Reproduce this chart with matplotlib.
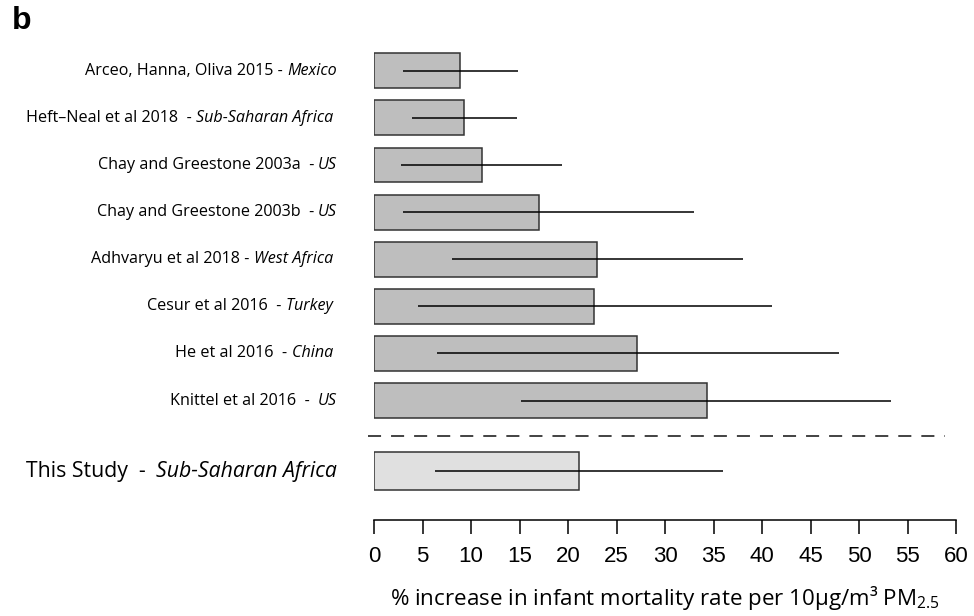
import matplotlib
matplotlib.use("Agg")
import matplotlib.pyplot as plt
import matplotlib.transforms as mtransforms
import numpy as np

plt.rcParams['lines.scale_dashes'] = False
plt.rcParams['mathtext.fontset'] = 'custom'
plt.rcParams['mathtext.rm'] = 'Open Sans'

# published estimates: % increase in infant mortality per 10 ug/m3 PM2.5
studies = ['Arceo, Hanna, Oliva 2015 - ', 'Heft\u2013Neal et al 2018  - ',
           'Chay and Greestone 2003a  - ', 'Chay and Greestone 2003b  - ',
           'Adhvaryu et al 2018 - ', 'Cesur et al 2016  - ',
           'He et al 2016  - ', 'Knittel et al 2016  -  ']
regions = ['Mexico', 'Sub-Saharan Africa ', 'US', 'US', 'West Africa ',
           'Turkey ', 'China ', 'US']
estimate = [8.9, 9.3, 11.1, 17.0, 23.0, 22.7, 27.1, 34.3]
ci_low = [3.0, 3.9, 2.8, 3.0, 8.0, 4.5, 6.5, 15.2]
ci_high = [14.8, 14.7, 19.4, 33.0, 38.0, 41.0, 47.9, 53.3]

this_label = 'This Study  -  '
this_region = 'Sub-Saharan Africa'
this_est = 21.1
this_low = 6.3
this_high = 36.0

ticks = np.arange(0, 61, 5)

fig = plt.figure(figsize=(9.74, 6.16), dpi=100)
ax = fig.add_axes([374 / 974, 0, 582 / 974, 1])
ax.set_xlim(0, 60)
ax.set_ylim(11.575, -1.503)

rows = np.arange(len(studies))
ax.barh(rows, estimate, height=0.74, color='#bebebe', edgecolor='#333333', linewidth=1.1)
ax.hlines(rows, ci_low, ci_high, color='black', linewidth=1.1)

y_this = len(studies) + 0.5
ax.barh([y_this], [this_est], height=0.8, color='#e0e0e0', edgecolor='#333333', linewidth=1.1)
ax.hlines([y_this], [this_low], [this_high], color='black', linewidth=1.1)

# separator between literature and this study
ax.plot([-0.6, 58.9], [len(studies) - 0.24] * 2, color='#222222', linewidth=1.2,
        linestyle=(0, (9.4, 7.2)), clip_on=False)

# R-style detached axis
for s in ['top', 'right', 'left']:
    ax.spines[s].set_visible(False)
ax.spines['bottom'].set_position(('data', 9.53))
ax.spines['bottom'].set_bounds(0, 60)
ax.spines['bottom'].set_linewidth(1.1)
ax.set_xticks(ticks)
ax.set_xticklabels([str(t) for t in ticks], family='Liberation Sans', fontsize=16)
ax.tick_params(axis='x', direction='out', length=10, width=1.1, pad=9)
ax.set_yticks([])
ax.patch.set_visible(False)

ax.text(30, 11.19, '% increase in infant mortality rate per 10\u00b5g/m\u00b3 PM$_{2.5}$',
        ha='center', va='center', family='Open Sans', fontsize=16.1)

# labels: regular study name followed by italic region
fig.canvas.draw()
renderer = fig.canvas.get_renderer()


def two_part_label(y, plain, italic, size):
    t = ax.text(-3.8, y, italic, ha='right', va='center', style='italic',
                family='Open Sans', fontsize=size)
    w = t.get_window_extent(renderer).width
    tr = mtransforms.offset_copy(ax.transData, fig=fig, x=-w, y=0, units='dots')
    ax.text(-3.8, y, plain, ha='right', va='center', family='Open Sans',
            fontsize=size, transform=tr)


for r, name, reg in zip(rows, studies, regions):
    two_part_label(r, name, reg, 11.6)
two_part_label(y_this, this_label, this_region, 15.3)

fig.text(12 / 974, 1 - 29 / 616, 'b', fontsize=23, fontweight='bold', va='baseline',
         family='Liberation Sans')

fig.savefig('out.png', dpi=100)
